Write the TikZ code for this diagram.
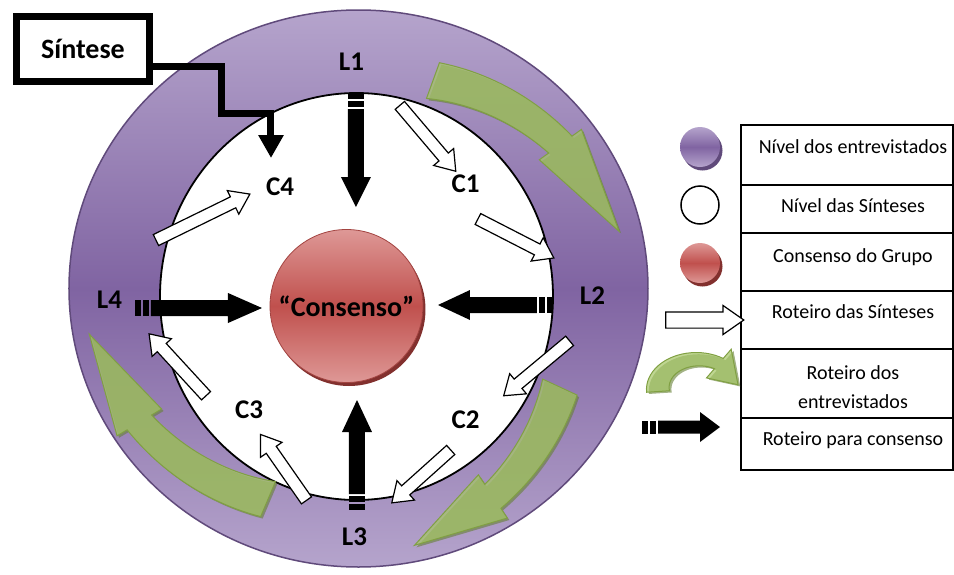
\documentclass[tikz,border=0pt]{standalone}
\usepackage{fontspec}
\setmainfont{Carlito}
\usetikzlibrary{positioning,calc,shapes.arrows,arrows.meta,shadows}

\definecolor{ringlight}{RGB}{181,164,204}
\definecolor{ringdark}{RGB}{128,100,162}
\definecolor{ringedge}{RGB}{96,74,123}
\definecolor{redlight}{RGB}{222,152,150}
\definecolor{reddark}{RGB}{192,80,77}
\definecolor{redshadow}{RGB}{130,48,46}
\definecolor{greenfill}{RGB}{166,198,104}
\definecolor{greenedge}{RGB}{128,160,66}

% curved band arrow: start angle, end angle, r start, r end, half width, head half width, head position
\newcommand{\greenpath}[7]{plot[domain=0:#7,samples=24] ({#1+((#2)-(#1))*\x}:{#3+((#4)-(#3))*\x+#5*(1-0.4*\x)})
  -- ({#1+((#2)-(#1))*#7}:{#3+((#4)-(#3))*#7+#6}) -- ({#2}:{#4})
  -- ({#1+((#2)-(#1))*#7}:{#3+((#4)-(#3))*#7-#6})
  -- plot[domain=0:#7,samples=24] ({#1+((#2)-(#1))*(#7-\x)}:{#3+((#4)-(#3))*(#7-\x)-#5*(1-0.4*(#7-\x))}) -- cycle}
\newcommand{\greenarrow}[7]{%
  \fill[greenshadow] \greenpath{#1}{#2}{#3}{#4}{#5}{#6}{#7};
  \filldraw[greenarr] \greenpath{#1}{#2}{#3}{#4}{#5}{#6}{#7};}
% striped black arrow: tail, angle, length, head length, half shaft
\newcommand{\stripearrow}[5]{%
  \begin{scope}[shift={(#1)},rotate=#2]
    \fill (0,-#5) rectangle (0.6,#5);
    \fill (0.8,-#5) rectangle (1.4,#5);
    \fill (1.6,-#5) -- ({#3-#4},-#5) -- ({#3-#4},-1.5) -- (#3,0) -- ({#3-#4},1.5) -- ({#3-#4},#5) -- (1.6,#5) -- cycle;
  \end{scope}}
% hollow arrow between two points
\newcommand{\hollowarrow}[3]{%
  \path let \p1=($(#3)-(#2)$) in
    node[hollow,rotate={atan2(\y1,\x1)},minimum height={veclen(\x1,\y1)}] (#1) at ($(#2)!0.5!(#3)$) {};}

\begin{document}
\begin{tikzpicture}[x=10pt,y=10pt,
  lab/.style={font=\bfseries\fontsize{27}{30}\selectfont},
  hollow/.style={single arrow,draw,fill=white,line width=1.2pt,inner xsep=0pt,inner ysep=5.5pt,
    single arrow head extend=7pt,single arrow tip angle=70},
  greenarr/.style={fill=greenfill,draw=greenedge,line width=1pt,fill opacity=0.72},
  greenshadow/.style={fill=greenedge!80!black,fill opacity=0.6,shift={(0.2,-0.2)}},
  ball/.style={circle,inner sep=0pt,drop shadow={shadow xshift=2.5pt,shadow yshift=-3.5pt,opacity=1,fill=#1}},
  legtext/.style={font=\fontsize{20}{29}\selectfont,align=center},
  legline/.style={line width=1.8pt}]

\useasboundingbox (-35.6,-28.2) rectangle (59.8,29.2);

% ring and inner level
\shade[top color=ringlight,bottom color=ringlight,middle color=ringdark] (0.25,0.35) ellipse [x radius=28.95,y radius=27.85];
\draw[ringedge,line width=1.5pt] (0.25,0.35) ellipse [x radius=28.95,y radius=27.85];
\filldraw[fill=white,line width=1.8pt] (0.05,-0.45) ellipse [x radius=19.65,y radius=20.35];

% green arrows
\greenarrow{70}{13}{22.5}{27}{1.9}{2.6}{0.6}
\greenarrow{-25}{-77}{22.5}{26}{1.9}{2.6}{0.6}
\greenarrow{247}{189}{22.5}{27}{1.9}{2.6}{0.62}

% consensus
\node[ball=redshadow,minimum size=153pt,top color=redlight,bottom color=redlight,middle color=reddark,
  draw=reddark!85!black,line width=0.8pt,font=\bfseries\fontsize{28}{32}\selectfont] (cons) at (-0.95,-1.4) {“Consenso”};

% black arrows
\stripearrow{0,19.9}{-90}{11.4}{3.0}{0.8}
\stripearrow{-22.1,-1.6}{0}{12.7}{3.4}{0.8}
\stripearrow{19.7,-1.3}{180}{11.5}{3.2}{0.8}
\stripearrow{0.1,-21.8}{90}{11}{3.2}{0.8}

% white arrows
\hollowarrow{w1}{4.1,19.0}{9.7,12.4}
\hollowarrow{w2}{11.8,7.5}{19.4,3.6}
\hollowarrow{w3}{21.7,-4.6}{15.1,-10.1}
\hollowarrow{w4}{9.8,-15.5}{3.9,-20.8}
\hollowarrow{w5}{-4.7,-21.2}{-9.3,-14.6}
\hollowarrow{w6}{-14.7,-10.7}{-20.4,-4.5}
\hollowarrow{w7}{-20.4,5.0}{-11.0,9.6}

% labels
\node[lab] (l1) at (-0.45,23.0) {L1};
\node[lab] (l2) at (23.65,-0.35) {L2};
\node[lab] (l3) at (-0.15,-24.45) {L3};
\node[lab] (l4) at (-24.65,-0.8) {L4};
\node[lab] (c1) at (10.95,10.85) {C1};
\node[lab] (c2) at (10.95,-12.8) {C2};
\node[lab] (c3) at (-10.7,-11.8) {C3};
\node[lab] (c4) at (-7.6,10.55) {C4};

% synthesis box
\node[draw,line width=7pt,minimum width=133pt,minimum height=65pt,
  font=\bfseries\fontsize{28}{32}\selectfont] (sintese) at (-27.3,24.3) {Síntese};
\coordinate (c4in) at (-8.5,13.4);
\draw[line width=7pt,-{Triangle[width=24pt,length=23pt]}] ([yshift=-17pt]sintese.east) -| (-13.4,17.9) -| (c4in);

% legend
\draw[legline] (38.5,16.7) rectangle (59.7,-17.8);
\foreach \y in {10.7,5.9,0.1,-5.7,-12.6}
  \draw[legline] (38.5,\y) -- (59.7,\y);
\node[ball=ringedge,minimum size=40pt,top color=ringlight,bottom color=ringlight,middle color=ringdark] (kring) at (34.4,14.5) {};
\node[circle,draw,line width=1.5pt,minimum size=38pt,inner sep=0pt] (kwhite) at (34.4,8.7) {};
\node[ball=redshadow,minimum size=40pt,top color=redlight,bottom color=redlight,middle color=reddark] (kred) at (34.4,2.9) {};
\node[hollow,minimum height=78pt,inner ysep=7.5pt,single arrow head extend=6.5pt] (karrow) at (34.3,-2.8) {};
\begin{scope}[shift={(34.1,-9.7)},xscale=1.15,yscale=0.85]
  \greenarrow{185}{8}{3.4}{3.6}{1.0}{2.0}{0.72}
\end{scope}
\stripearrow{28.6,-13.5}{0}{7.8}{2.0}{0.65}

\node[legtext] (t1) at (49.7,14.5) {Nível dos entrevistados};
\node[legtext] (t2) at (49.7,8.6) {Nível das Sínteses};
\node[legtext] (t3) at (49.7,3.5) {Consenso do Grupo};
\node[legtext] (t4) at (49.7,-2.0) {Roteiro das Sínteses};
\node[legtext] (t5) at (49.7,-9.55) {Roteiro dos\\entrevistados};
\node[legtext] (t6) at (49.7,-14.8) {Roteiro para consenso};
\end{tikzpicture}
\end{document}
